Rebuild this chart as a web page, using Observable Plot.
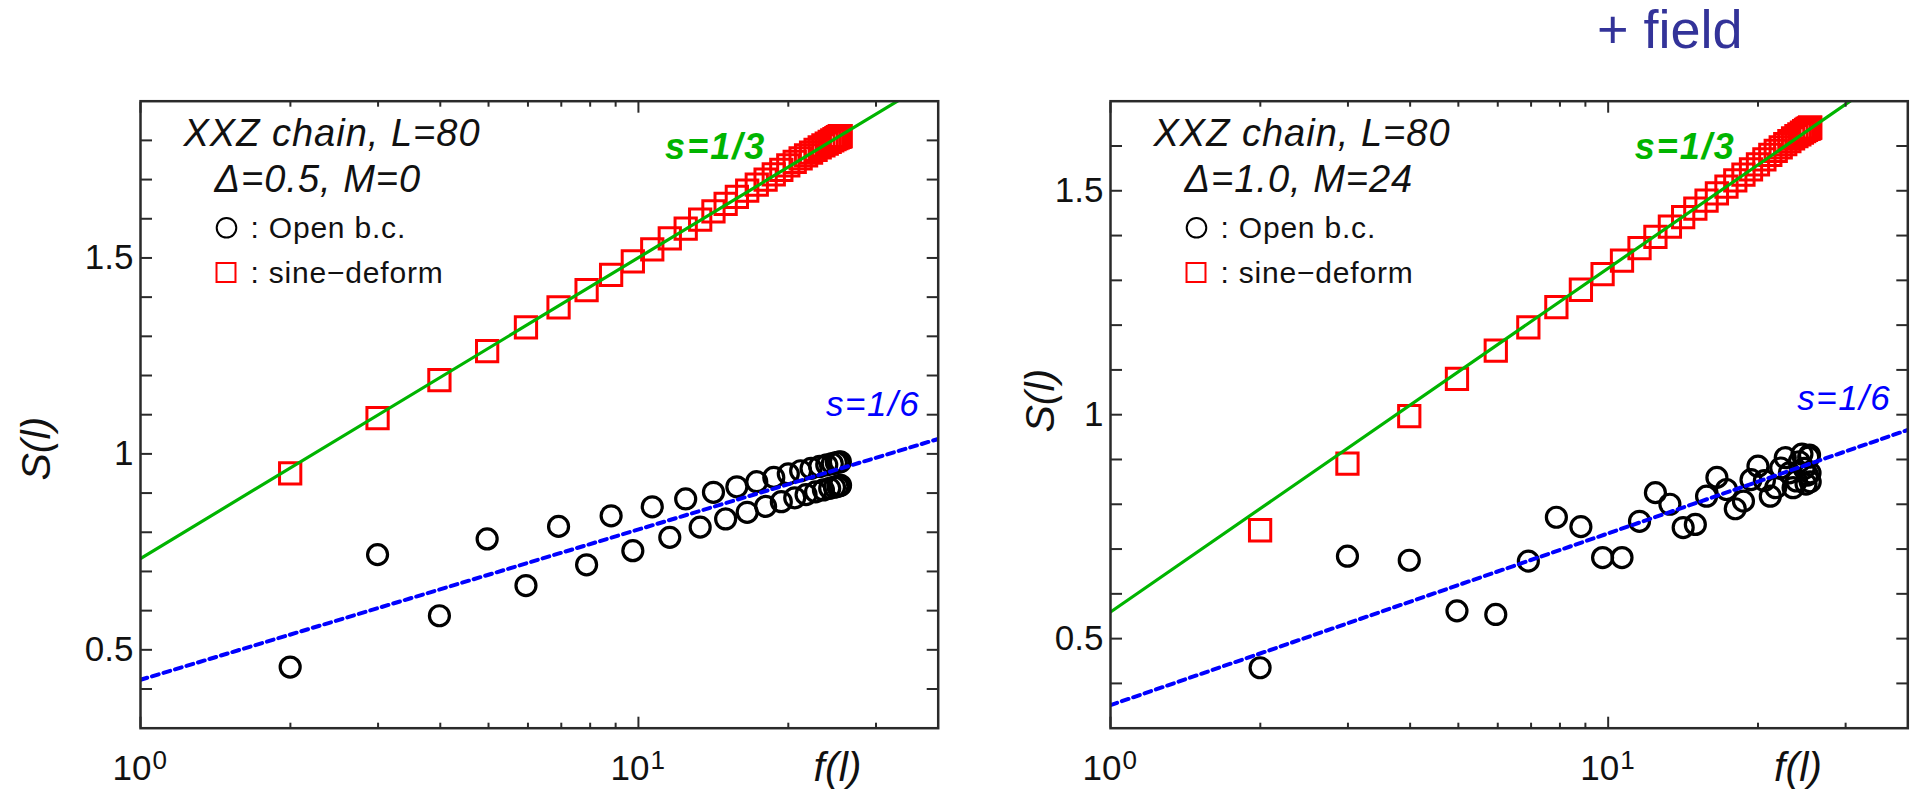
<!DOCTYPE html>
<html><head><meta charset="utf-8">
<script src="https://cdn.jsdelivr.net/npm/d3@7"></script>
<script src="https://cdn.jsdelivr.net/npm/@observablehq/plot@0.6"></script>
<style>
body{margin:0;background:#fff;}
#wrap{position:relative;width:1912px;height:794px;overflow:hidden;font-family:"Liberation Sans",Arial,Helvetica,sans-serif;}
#left{position:absolute;left:0;top:0;}
#right{position:absolute;left:956px;top:0;}
#field{position:absolute;left:1597px;top:2px;font-size:54px;line-height:54px;color:#333399;white-space:pre;}
</style></head><body>
<div id="wrap"><div id="left"></div><div id="right"></div><div id="field">+ field</div></div>
<script>
// f(l) for l = 2..40 (L = 80)
const fl = [1.998, 2.993, 3.984, 4.968, 5.945, 6.912, 7.869, 8.814, 9.745, 10.661, 11.561, 12.443, 13.305, 14.148, 14.968, 15.765, 16.538, 17.286, 18.006, 18.699, 19.364, 19.998, 20.602, 21.173, 21.712, 22.218, 22.689, 23.126, 23.526, 23.891, 24.219, 24.509, 24.761, 24.976, 25.151, 25.288, 25.386, 25.445, 25.465];

// Left panel: Delta=0.5, M=0
const leftOpen = [0.456, 0.743, 0.587, 0.783, 0.664, 0.815, 0.717, 0.842, 0.753, 0.865, 0.787, 0.885, 0.813, 0.902, 0.834, 0.916, 0.851, 0.929, 0.866, 0.940, 0.878, 0.949, 0.888, 0.957, 0.896, 0.963, 0.903, 0.968, 0.908, 0.972, 0.912, 0.975, 0.915, 0.978, 0.917, 0.979, 0.919, 0.980, 0.920];
const leftSine = [0.950, 1.091, 1.188, 1.262, 1.323, 1.374, 1.418, 1.457, 1.491, 1.522, 1.550, 1.575, 1.598, 1.619, 1.638, 1.656, 1.672, 1.687, 1.700, 1.713, 1.725, 1.736, 1.745, 1.754, 1.762, 1.769, 1.776, 1.782, 1.787, 1.792, 1.796, 1.800, 1.803, 1.806, 1.808, 1.809, 1.810, 1.811, 1.811];
const leftGreen = [{f: 1, S: 0.733}, {f: 40, S: 1.963}];
const leftBlue = [{f: 1, S: 0.4235}, {f: 40, S: 1.038}];

// Right panel: Delta=1.0, M=24
const rightOpen = [0.435, 0.684, 0.675, 0.562, 0.554, 0.673, 0.771, 0.750, 0.681, 0.681, 0.762, 0.826, 0.800, 0.748, 0.755, 0.818, 0.860, 0.833, 0.790, 0.807, 0.855, 0.885, 0.853, 0.818, 0.837, 0.881, 0.904, 0.870, 0.837, 0.852, 0.895, 0.912, 0.880, 0.845, 0.865, 0.905, 0.910, 0.870, 0.850];
const rightSine = [0.742, 0.891, 0.997, 1.080, 1.143, 1.195, 1.240, 1.279, 1.314, 1.344, 1.372, 1.397, 1.420, 1.441, 1.460, 1.478, 1.494, 1.509, 1.523, 1.536, 1.548, 1.559, 1.570, 1.580, 1.589, 1.597, 1.604, 1.611, 1.617, 1.622, 1.626, 1.630, 1.633, 1.636, 1.638, 1.639, 1.640, 1.641, 1.641];
const rightGreen = [{f: 1, S: 0.5595}, {f: 40, S: 1.789}];
const rightBlue = [{f: 1, S: 0.3515}, {f: 40, S: 0.966}];

const xMajor = [1, 10];
const xMinor = [2, 3, 4, 5, 6, 7, 8, 9, 20, 30];
const yLabelTicks = [0.5, 1, 1.5];
const yTicksLeft = [0.4, 0.5, 0.6, 0.7, 0.8, 0.9, 1.0, 1.1, 1.2, 1.3, 1.4, 1.5, 1.6, 1.7, 1.8];
const yTicksRight = [0.4, 0.5, 0.6, 0.7, 0.8, 0.9, 1.0, 1.1, 1.2, 1.3, 1.4, 1.5, 1.6];

const ink = "#2a2a2a";
const green = "#00b400";
const FONT = "'Liberation Sans', Arial, Helvetica, sans-serif";

// letter spacing applied after rendering, by text content
const spacing = {
  "XXZ chain, L=80": 1, "\u0394=0.5, M=0": 1, "\u0394=1.0, M=24": 1,
  ": Open b.c.": 0.8, ": sine\u2212deform": 0.8, "s=1/3": 2, "s=1/6": 1.5
};

function panel(o) {
  const pts = arr => fl.map((f, i) => ({f, S: arr[i]}));
  const tickOpts = {stroke: ink, strokeWidth: 2, tickFormat: () => "", label: null};
  const T = {lineAnchor: "middle", fill: "#111"};
  const svg = Plot.plot({
    width: 956, height: 794,
    marginLeft: o.ml, marginRight: o.mr, marginTop: 100.7, marginBottom: 66.3,
    x: {type: "log", domain: [1, 40], axis: null},
    y: {domain: [0.3, o.yMax], axis: null},
    style: {fontFamily: FONT, background: "transparent", overflow: "visible", color: ink},
    marks: [
      Plot.dot(pts(o.open), {x: "f", y: "S", r: 10, stroke: "#000", strokeWidth: 3.2, fill: "none"}),
      Plot.dot(pts(o.sine), {x: "f", y: "S", r: 12, symbol: "square", stroke: "#ff0000", strokeWidth: 3, fill: "none"}),
      Plot.line(o.green, {x: "f", y: "S", stroke: green, strokeWidth: 3.2, clip: true}),
      Plot.line(o.blue, {x: "f", y: "S", stroke: "#0000ff", strokeWidth: 4, strokeDasharray: "7,5", clip: true}),
      Plot.frame({stroke: ink, strokeWidth: 2.5}),
      Plot.axisX(xMajor, {...tickOpts, anchor: "bottom", tickSize: -11}),
      Plot.axisX(xMinor, {...tickOpts, anchor: "bottom", tickSize: -5}),
      Plot.axisX(xMajor, {...tickOpts, anchor: "top", tickSize: -11}),
      Plot.axisX(xMinor, {...tickOpts, anchor: "top", tickSize: -5}),
      Plot.axisY(o.yTicks, {...tickOpts, anchor: "left", tickSize: -12}),
      Plot.axisY(o.yTicks, {...tickOpts, anchor: "right", tickSize: -12}),
      Plot.axisY(yLabelTicks, {anchor: "left", label: null, tickSize: 0, tickPadding: 7, fontSize: 35, fill: "#111", tickFormat: d => String(d)}),
      Plot.text(xMajor, {...T, x: d => d, frameAnchor: "bottom", text: () => "10", textAnchor: "end", dx: 11, dy: 41, fontSize: 35}),
      Plot.text(xMajor, {...T, x: d => d, frameAnchor: "bottom", text: d => String(Math.round(Math.log10(d))), textAnchor: "start", dx: 12, dy: 32, fontSize: 26}),
      Plot.text(["f(l)"], {...T, frameAnchor: "bottom-right", dx: o.fdx, dy: 40, fontSize: 41, fontStyle: "italic", textAnchor: "middle"}),
      Plot.text(["S(l)"], {...T, frameAnchor: "left", dx: o.sdx, dy: o.sdy, rotate: -90, fontSize: 41, fontStyle: "italic", textAnchor: "middle"}),
      Plot.text([o.title1], {...T, frameAnchor: "top-left", dx: 43, dy: 32.8, fontSize: 38, fontStyle: "italic", textAnchor: "start"}),
      Plot.text([o.title2], {...T, frameAnchor: "top-left", dx: 74, dy: 79, fontSize: 38, fontStyle: "italic", textAnchor: "start"}),
      Plot.dot([0], {frameAnchor: "top-left", dx: 86, dy: 126.6, r: 9.8, stroke: "#000", strokeWidth: 2, fill: "none"}),
      Plot.text([": Open b.c."], {...T, frameAnchor: "top-left", dx: 110, dy: 126.7, fontSize: 30, textAnchor: "start"}),
      Plot.dot([0], {frameAnchor: "top-left", dx: 85.5, dy: 171.3, r: 10.7, symbol: "square", stroke: "#ff0000", strokeWidth: 2, fill: "none"}),
      Plot.text([": sine\u2212deform"], {...T, frameAnchor: "top-left", dx: 110, dy: 172.4, fontSize: 30, textAnchor: "start"}),
      Plot.text(["s=1/3"], {...T, frameAnchor: "top-right", dx: -172, dy: 45.8, fontSize: 36, fontWeight: "bold", fontStyle: "italic", textAnchor: "end", fill: green}),
      Plot.text(["s=1/6"], {...T, frameAnchor: "top-right", dx: o.s6dx, dy: o.s6dy, fontSize: 35, fontStyle: "italic", textAnchor: "end", fill: "#0000ff"})
    ]
  });
  d3.select(svg).selectAll("text").each(function () {
    const ls = spacing[this.textContent];
    if (ls != null) this.setAttribute("letter-spacing", ls);
  });
  return svg;
}

document.getElementById("left").append(panel({
  open: leftOpen, sine: leftSine, green: leftGreen, blue: leftBlue,
  yMax: 1.9, yTicks: yTicksLeft, ml: 140, mr: 18.3,
  fdx: -100.7, sdx: -104, sdy: 34, s6dx: -18, s6dy: 304,
  title1: "XXZ chain, L=80", title2: "\u0394=0.5, M=0"
}));
document.getElementById("right").append(panel({
  open: rightOpen, sine: rightSine, green: rightGreen, blue: rightBlue,
  yMax: 1.7, yTicks: yTicksRight, ml: 154, mr: 4.7,
  fdx: -109.8, sdx: -70, sdy: -14, s6dx: -16.5, s6dy: 298,
  title1: "XXZ chain, L=80", title2: "\u0394=1.0, M=24"
}));
</script></body></html>
